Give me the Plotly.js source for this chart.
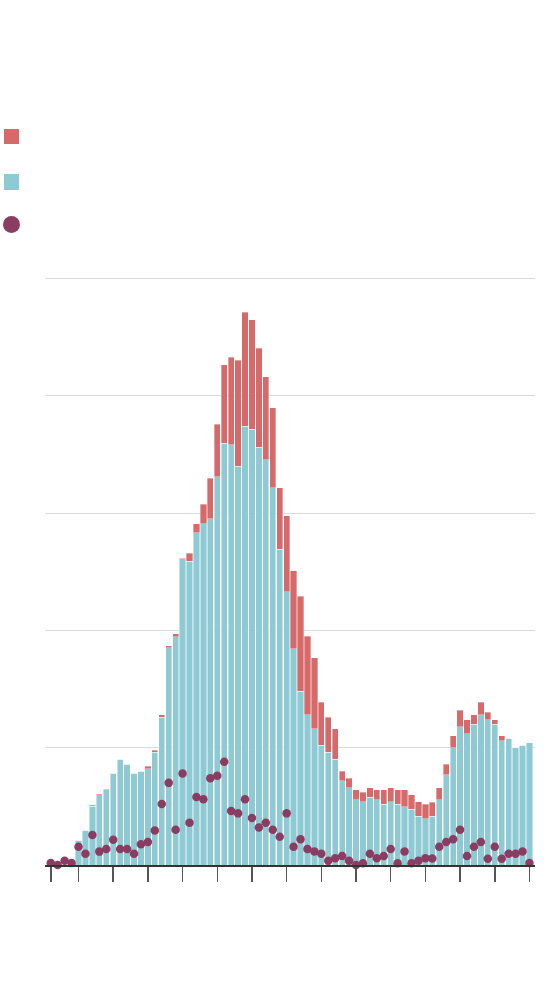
<!DOCTYPE html>
<html>
<head>
<meta charset="utf-8">
<script src="https://cdn.plot.ly/plotly-3.0.1.min.js"></script>
<style>
  html, body { margin: 0; padding: 0; background: #ffffff; }
  #chart { width: 560px; height: 998px; }
</style>
</head>
<body>
<div id="chart"></div>
<script>
// Bar positions (periods) and dot positions
const barIndex = [];
for (let i = 0; i <= 65; i++) barIndex.push(i);
const dotIndex = [];
for (let i = -4; i <= 65; i++) dotIndex.push(i);

// Lower (blue) segment of each bar
const blueValues = [
  21, 29.5, 50, 60, 64, 78, 90, 86, 78, 80,
  82, 96, 126, 185, 194.5, 261, 259, 283, 291, 295,
  331, 359.5, 358, 340, 374, 371.6, 356, 345.6, 321.4, 269,
  233, 184.5, 148, 128, 116, 102, 96, 90, 72, 66,
  55.6, 54, 57.6, 55.6, 51.7, 53.7, 51.7, 49.7, 47.7, 41.5,
  39.5, 41.6, 55.8, 76.8, 100, 118, 112, 120, 128, 124,
  120, 106, 108, 100, 102, 104
];

// Upper (red) segment stacked on top
const redValues = [
  0, 0, 0.8, 0.6, 0.6, 0, 0, 0, 0, 0,
  2, 2, 2, 2, 2.5, 0.5, 6.5, 8, 16.5, 34.5,
  44.6, 67, 74.6, 90, 97, 93, 84.4, 70.7, 68.5, 52.7,
  64.5, 66.5, 81, 67, 60.6, 36.6, 30, 26, 8, 8,
  8.4, 8, 8.4, 8.4, 12.3, 12.3, 12.3, 14.3, 12.3, 12.2,
  12.2, 12, 10.2, 9.2, 10, 14, 12, 8, 10.6, 6,
  4, 4, 0, 0, 0, 0
];

// Dot series
const dotValues = [
  1.7, 0, 3.7, 1.7,
  15.6, 9.6, 25.5, 11.4, 13.6, 21.6, 13.6, 13.6, 9.6, 17.6,
  19.6, 29.5, 52, 70, 30, 78, 36, 58, 56, 74,
  76, 88, 46, 44, 56, 40, 32, 36, 30, 24,
  44, 15.6, 22, 13.6, 11.6, 9.6, 3.7, 5.7, 7.7, 3.7,
  0, 1.4, 9.6, 5.7, 7.7, 13.6, 1.4, 11.6, 1.4, 3.7,
  5.7, 5.6, 15.6, 19.6, 22, 30, 7.7, 15.6, 19.6, 5.4,
  15.6, 5.4, 9.6, 9.6, 11.6, 1.7
];

const xTicks = [-4, 0, 5, 10, 15, 20, 25, 30, 35, 40, 45, 50, 55, 60, 65];
const yGrid = [100, 200, 300, 400, 500];

const BLUE = '#8ecad4';
const RED = '#d6696a';
const DOT = '#8b3c62';

const traces = [
  {
    type: 'bar', x: barIndex, y: blueValues, name: '',
    marker: { color: BLUE, line: { color: 'rgba(255,255,255,0.55)', width: 0.8 } },
    showlegend: false, hoverinfo: 'skip'
  },
  {
    type: 'bar', x: barIndex, y: redValues, name: '',
    marker: { color: RED, line: { color: 'rgba(255,255,255,0.45)', width: 0.8 } },
    showlegend: false, hoverinfo: 'skip'
  },
  {
    type: 'scatter', mode: 'markers', x: dotIndex, y: dotValues, name: '',
    marker: { color: DOT, size: 8.5, line: { width: 0 } },
    cliponaxis: false, showlegend: false, hoverinfo: 'skip'
  }
];

const legendKey = (x0, x1, y0, y1, type, color) => ({
  type: type, xref: 'paper', yref: 'paper',
  xsizemode: 'pixel', ysizemode: 'pixel', xanchor: 0, yanchor: 1,
  x0: x0, x1: x1, y0: y0, y1: y1,
  fillcolor: color, line: { width: 0 }
});

const layout = {
  width: 560, height: 998,
  margin: { l: 45, r: 25, t: 276, b: 133 },
  paper_bgcolor: '#ffffff', plot_bgcolor: '#ffffff',
  barmode: 'stack', bargap: 0.1,
  showlegend: false,
  xaxis: {
    range: [-4.83, 65.8],
    tickmode: 'array', tickvals: xTicks, showticklabels: false,
    ticks: 'outside', ticklen: 15, tickwidth: 1.5, tickcolor: '#555555',
    showgrid: false, zeroline: false,
    showline: true, linecolor: '#333333', linewidth: 1.5,
    fixedrange: true
  },
  yaxis: {
    range: [0, 502],
    tickmode: 'array', tickvals: yGrid, showticklabels: false,
    ticks: '', showgrid: true, gridcolor: '#d9d9d9', gridwidth: 1,
    zeroline: false, showline: false, fixedrange: true
  },
  shapes: [
    legendKey(-41, -26, 132, 147, 'rect', RED),
    legendKey(-41, -26, 86, 102, 'rect', BLUE),
    legendKey(-42, -25, 43, 60, 'circle', DOT)
  ]
};

Plotly.newPlot('chart', traces, layout, { displayModeBar: false, staticPlot: true });
</script>
</body>
</html>
